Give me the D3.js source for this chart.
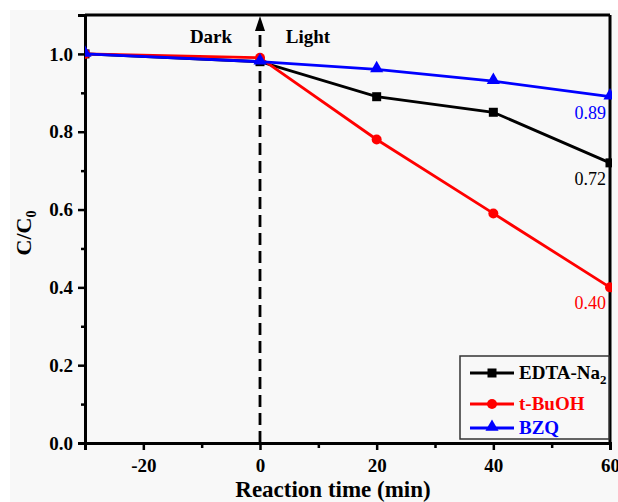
<!DOCTYPE html>
<html>
<head>
<meta charset="utf-8">
<script src="https://cdn.jsdelivr.net/npm/d3@7"></script>
<style>
  body { margin: 0; background: #ffffff; }
</style>
</head>
<body>
<div id="canvas"></div>
<script>
"use strict"

/* data */
let times = [-30, 0, 20, 40, 60];
let edta = [1.0, 0.98, 0.89, 0.85, 0.72];
let tbuoh = [1.0, 0.99, 0.78, 0.59, 0.40];
let bzq = [1.0, 0.98, 0.96, 0.93, 0.89];
let xTicks = [-20, 0, 20, 40, 60];
let yTicks = [0.0, 0.2, 0.4, 0.6, 0.8, 1.0];

let series = [
    {name: "EDTA-Na", sub: "2", values: edta, color: "#000000", shape: "square", end: "0.72"},
    {name: "t-BuOH", sub: "", values: tbuoh, color: "#ff0000", shape: "circle", end: "0.40"},
    {name: "BZQ", sub: "", values: bzq, color: "#0000ff", shape: "triangle", end: "0.89"}
];

let svgWidth = 618;
let svgHeight = 502;
let plotLeft = 85, plotRight = 610, plotTop = 15, plotBottom = 443;

let svg = d3.select("#canvas")
    .append("svg")
    .attr("width", svgWidth)
    .attr("height", svgHeight);

/* grey page background */
svg.append("rect")
    .attr("x", 10)
    .attr("y", 10)
    .attr("width", svgWidth - 10)
    .attr("height", svgHeight - 10)
    .attr("fill", "#f8f8f8");

let xScale = d3.scaleLinear()
    .domain([-30, 60])
    .range([plotLeft, plotRight]);

let yScale = d3.scaleLinear()
    .domain([0, 1.1])
    .range([plotBottom, plotTop]);

let serif = "'Liberation Serif', 'Times New Roman', serif";

/* x axis */
let xAxis = svg.append("g")
    .attr("transform", "translate(0," + plotBottom + ")")
    .call(d3.axisBottom(xScale).tickValues(xTicks).tickSize(7).tickFormat(function (d) { return String(d); }));
let xMinor = svg.append("g")
    .attr("transform", "translate(0," + plotBottom + ")")
    .call(d3.axisBottom(xScale).tickValues([-10, 10, 30, 50]).tickSize(5).tickFormat(""));

/* y axis */
let yAxis = svg.append("g")
    .attr("transform", "translate(" + plotLeft + ",0)")
    .call(d3.axisLeft(yScale).tickValues(yTicks).tickSize(7).tickFormat(d3.format(".1f")));
let yMinor = svg.append("g")
    .attr("transform", "translate(" + plotLeft + ",0)")
    .call(d3.axisLeft(yScale).tickValues([0.1, 0.3, 0.5, 0.7, 0.9]).tickSize(4).tickFormat(""));

[xAxis, xMinor, yAxis, yMinor].forEach(function (g) {
    g.select(".domain").attr("stroke", "#000").attr("stroke-width", 3);
    g.selectAll(".tick line").attr("stroke", "#000").attr("stroke-width", 2.5);
});

xAxis.selectAll(".tick text")
    .attr("y", 29)
    .attr("dy", 0)
    .style("font-family", serif)
    .style("font-weight", "bold")
    .style("font-size", "19px")
    .attr("fill", "#000");

yAxis.selectAll(".tick text")
    .attr("x", -12)
    .style("font-family", serif)
    .style("font-weight", "bold")
    .style("font-size", "19px")
    .attr("fill", "#000");

/* top and right frame */
svg.append("line")
    .attr("x1", plotLeft).attr("y1", plotTop)
    .attr("x2", plotRight).attr("y2", plotTop)
    .attr("stroke", "#000").attr("stroke-width", 3);
svg.append("line")
    .attr("x1", plotRight).attr("y1", plotTop)
    .attr("x2", plotRight).attr("y2", plotBottom)
    .attr("stroke", "#000").attr("stroke-width", 3);

/* dark / light divider */
svg.append("line")
    .attr("x1", xScale(0)).attr("y1", plotBottom)
    .attr("x2", xScale(0)).attr("y2", plotTop + 18)
    .attr("stroke", "#000")
    .attr("stroke-width", 2.8)
    .attr("stroke-dasharray", "12,6");
svg.append("path")
    .attr("d", "M" + xScale(0) + "," + (plotTop + 1) + " l-5,15 l10,0 z")
    .attr("fill", "#000");

svg.append("text")
    .attr("x", 211).attr("y", 43)
    .attr("text-anchor", "middle")
    .style("font-family", serif)
    .style("font-weight", "bold")
    .style("font-size", "19px")
    .text("Dark");
svg.append("text")
    .attr("x", 308).attr("y", 43)
    .attr("text-anchor", "middle")
    .style("font-family", serif)
    .style("font-weight", "bold")
    .style("font-size", "19px")
    .text("Light");

/* lines and markers */
let line = d3.line()
    .x(function (d, i) { return xScale(times[i]); })
    .y(function (d) { return yScale(d); });

function marker(g, shape, color, x, y) {
    if (shape === "square") {
        g.append("rect")
            .attr("x", x - 4.5).attr("y", y - 4.5)
            .attr("width", 9).attr("height", 9)
            .attr("fill", color);
    } else if (shape === "circle") {
        g.append("circle")
            .attr("cx", x).attr("cy", y).attr("r", 5)
            .attr("fill", color);
    } else {
        g.append("path")
            .attr("d", d3.symbol().type(d3.symbolTriangle).size(75)())
            .attr("transform", "translate(" + x + "," + (y - 1) + ")")
            .attr("fill", color);
    }
}

let plot = svg.append("g");
plot.append("clipPath").attr("id", "clip")
    .append("rect")
    .attr("x", plotLeft).attr("y", plotTop)
    .attr("width", plotRight - plotLeft + 2).attr("height", plotBottom - plotTop);

series.forEach(function (s) {
    let g = plot.append("g").attr("clip-path", "url(#clip)");
    g.append("path")
        .datum(s.values)
        .attr("d", line)
        .attr("fill", "none")
        .attr("stroke", s.color)
        .attr("stroke-width", 2.8);
    s.values.forEach(function (v, i) {
        marker(g, s.shape, s.color, xScale(times[i]), yScale(v));
    });
});

/* end value labels */
series.forEach(function (s) {
    let last = s.values[s.values.length - 1];
    svg.append("text")
        .attr("x", plotRight - 4)
        .attr("y", yScale(last) + 22)
        .attr("text-anchor", "end")
        .style("font-family", serif)
        .style("font-size", "18px")
        .attr("fill", s.color)
        .text(s.end);
});

/* legend */
let legend = svg.append("g");
legend.append("rect")
    .attr("x", 460).attr("y", 356)
    .attr("width", 149).attr("height", 83)
    .attr("fill", "#f8f8f8")
    .attr("stroke", "#333")
    .attr("stroke-width", 1.5);

let legendY = [373, 404, 428];
series.forEach(function (s, i) {
    let y = legendY[i];
    legend.append("line")
        .attr("x1", 470).attr("y1", y)
        .attr("x2", 514).attr("y2", y)
        .attr("stroke", s.color)
        .attr("stroke-width", 2.8);
    marker(legend, s.shape, s.color, 492, y);
    let t = legend.append("text")
        .attr("x", 519).attr("y", y + 6)
        .style("font-family", serif)
        .style("font-weight", "bold")
        .style("font-size", "19px")
        .attr("fill", s.color)
        .text(s.name);
    if (s.sub) {
        t.append("tspan")
            .attr("dy", 5)
            .style("font-size", "13px")
            .text(s.sub);
    }
});

/* axis titles */
svg.append("text")
    .attr("x", 333)
    .attr("y", 497)
    .attr("text-anchor", "middle")
    .style("font-family", serif)
    .style("font-weight", "bold")
    .style("font-size", "23px")
    .text("Reaction time (min)");

let yTitle = svg.append("text")
    .attr("transform", "translate(31,233) rotate(-90)")
    .attr("text-anchor", "middle")
    .style("font-family", serif)
    .style("font-weight", "bold")
    .style("font-size", "22px")
    .text("C/C");
yTitle.append("tspan")
    .attr("dy", 5)
    .style("font-size", "14px")
    .text("0");
</script>
</body>
</html>
